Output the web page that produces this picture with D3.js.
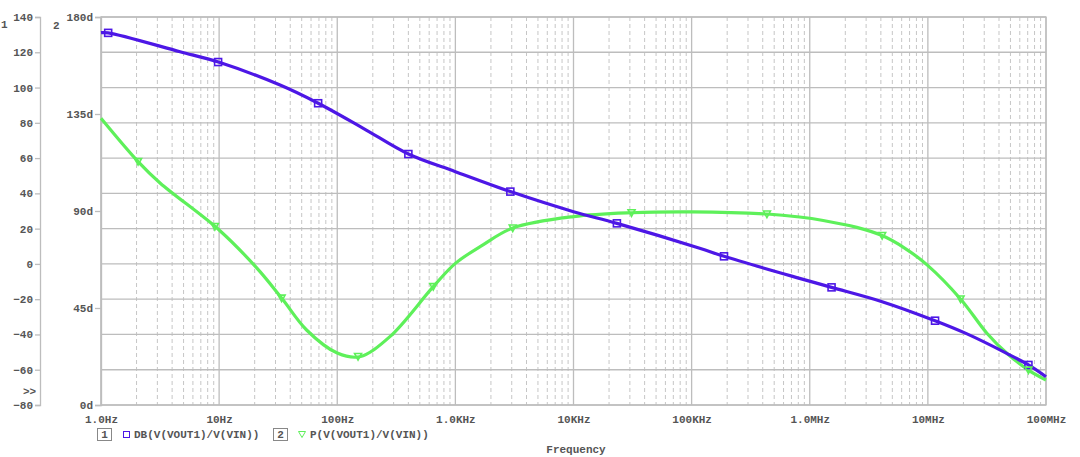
<!DOCTYPE html>
<html>
<head>
<meta charset="utf-8">
<script src="https://cdn.jsdelivr.net/npm/d3@7"></script>
<style>
  body { margin: 0; background: #fff; }
  text { font-family: "Liberation Mono", monospace; font-size: 11px; fill: #555; font-weight: bold; }
</style>
</head>
<body>
<svg id="chart" width="1080" height="457"></svg>
<script>
// DB(V(VOUT1)/V(VIN)) - axis 1
const magFreq = [1, 1.15, 4.67, 10, 32.8, 68.9, 166, 400, 1000, 2920, 10000, 23300, 117000, 188000, 820000, 1.53e6, 4.1e6, 11.5e6, 21e6, 46.5e6, 71e6, 1e8];
const magDb = [131.1, 131.0, 120.3, 114.3, 101.4, 91.1, 76.9, 62.3, 52.3, 41.0, 29.6, 23.0, 8.9, 4.3, -8.2, -13.3, -21.4, -32.2, -39.4, -50.7, -57.3, -64.0];
// P(V(VOUT1)/V(VIN)) - axis 2, degrees
const phFreq = [1, 2.06, 3.16, 10, 20.8, 33.8, 55, 100, 155, 279, 650, 1000, 1700, 3060, 10000, 31000, 100000, 434000, 820000, 1.3e6, 2.5e6, 4.1e6, 6.4e6, 9.9e6, 18.9e6, 31.6e6, 46.6e6, 71e6, 1e8];
const phaseDeg = [133.0, 112.9, 103.0, 81.2, 63.6, 49.6, 34.8, 24.1, 22.4, 31.7, 54.9, 65.7, 74.2, 82.1, 87.4, 89.2, 89.6, 88.6, 87.2, 85.6, 82.4, 78.6, 72.7, 64.9, 49.2, 33.3, 24.0, 16.2, 11.6];

// marker positions (frequency)
const magMarkF = [1.15, 9.8, 68.9, 400, 2920, 23300, 188000, 1.53e6, 11.5e6, 71e6];
const phaseMarkF = [2.06, 9.2, 33.8, 150, 650, 3060, 31000, 434000, 4.1e6, 18.9e6, 71e6];

const xTicks = [1, 10, 100, 1e3, 1e4, 1e5, 1e6, 1e7, 1e8];
const xTickLabels = ["1.0Hz", "10Hz", "100Hz", "1.0KHz", "10KHz", "100KHz", "1.0MHz", "10MHz", "100MHz"];
const y1Ticks = [140, 120, 100, 80, 60, 40, 20, 0, -20, -40, -60, -80];
const y2Ticks = [180, 135, 90, 45, 0];
const y2TickLabels = ["180d", "135d", "90d", "45d", "0d"];

const pLeft = 101, pRight = 1046, pTop = 17, pBottom = 405;
const svg = d3.select("#chart");
const gridCol = "#bdbdbd";

const x = d3.scaleLog().domain([1, 1e8]).range([pLeft, pRight]);
const y1 = d3.scaleLinear().domain([-80, 140]).range([pBottom, pTop]);
const y2 = d3.scaleLinear().domain([0, 180]).range([pBottom, pTop]);

// minor grid (dashed)
const minor = [];
for (let d = 0; d < 8; d++) for (let m = 2; m <= 9; m++) minor.push(m * Math.pow(10, d));
svg.append("g").selectAll("line").data(minor).enter().append("line")
  .attr("x1", d => x(d)).attr("x2", d => x(d))
  .attr("y1", pTop).attr("y2", pBottom)
  .attr("stroke", "#c6c6c6").attr("stroke-dasharray", "4,3");

// major grid
svg.append("g").selectAll("line").data(xTicks).enter().append("line")
  .attr("x1", d => x(d)).attr("x2", d => x(d))
  .attr("y1", pTop).attr("y2", pBottom)
  .attr("stroke", gridCol).attr("stroke-width", 1.3);
svg.append("g").selectAll("line").data(y1Ticks).enter().append("line")
  .attr("x1", pLeft).attr("x2", pRight)
  .attr("y1", d => y1(d)).attr("y2", d => y1(d))
  .attr("stroke", gridCol).attr("stroke-width", 1.3);

// axis 1
const ax1 = svg.append("g").attr("transform", "translate(40,0)")
  .call(d3.axisLeft(y1).tickValues(y1Ticks).tickSize(5).tickPadding(2));
// axis 2
const ax2 = svg.append("g").attr("transform", `translate(${pLeft},0)`)
  .call(d3.axisLeft(y2).tickValues(y2Ticks).tickFormat((d, i) => y2TickLabels[i]).tickSize(6).tickPadding(2));
// x axis
const axx = svg.append("g").attr("transform", `translate(0,${pBottom})`)
  .call(d3.axisBottom(x).tickValues(xTicks).tickFormat((d, i) => xTickLabels[i]).tickSize(0).tickPadding(10));
[ax1, ax2, axx].forEach(a => {
  a.selectAll("path,line").attr("stroke", gridCol).attr("stroke-width", 1.3);
  a.selectAll("text").attr("font-family", null).attr("font-size", null).attr("fill", null);
});
axx.select(".domain").remove();
svg.append("rect").attr("x", pLeft).attr("y", pTop).attr("width", pRight - pLeft).attr("height", pBottom - pTop)
  .attr("fill", "none").attr("stroke", gridCol).attr("stroke-width", 1.3);

svg.append("text").attr("x", 1).attr("y", 28).text("1");
svg.append("text").attr("x", 53).attr("y", 29).text("2");
svg.append("text").attr("x", 23).attr("y", 395).text(">>");

// curves
const magData = d3.zip(magFreq, magDb);
const phData = d3.zip(phFreq, phaseDeg);
const magLine = d3.line().curve(d3.curveCatmullRom.alpha(0.5)).x(d => x(d[0])).y(d => y1(d[1]));
const phLine = d3.line().curve(d3.curveCatmullRom.alpha(0.5)).x(d => x(d[0])).y(d => y2(d[1]));
const purple = "#4d17e6", green = "#5ef05a";

svg.append("path").datum(phData).attr("d", phLine)
  .attr("fill", "none").attr("stroke", green).attr("stroke-width", 3.2);
svg.append("path").datum(magData).attr("d", magLine)
  .attr("fill", "none").attr("stroke", purple).attr("stroke-width", 3.2);

// value at f, linear in log(f) between read points
function interp(data, f) {
  const lf = Math.log10(f);
  for (let i = 1; i < data.length; i++) {
    const a = Math.log10(data[i - 1][0]), b = Math.log10(data[i][0]);
    if (lf <= b) return data[i - 1][1] + (data[i][1] - data[i - 1][1]) * (lf - a) / (b - a);
  }
  return data[data.length - 1][1];
}

svg.append("g").selectAll("rect").data(magMarkF).enter().append("rect")
  .attr("x", d => x(d) - 3.5).attr("y", d => y1(interp(magData, d)) - 3.5)
  .attr("width", 7).attr("height", 7)
  .attr("fill", "none").attr("stroke", purple).attr("stroke-width", 1.6);
svg.append("g").selectAll("path").data(phaseMarkF).enter().append("path")
  .attr("transform", d => `translate(${x(d)},${y2(interp(phData, d))})`)
  .attr("d", "M-3.5,-3L3.5,-3L0,3.5Z")
  .attr("fill", "none").attr("stroke", green).attr("stroke-width", 1.6);

// legend
const lg = svg.append("g");
lg.append("rect").attr("x", 97.5).attr("y", 428.5).attr("width", 14).attr("height", 12)
  .attr("fill", "none").attr("stroke", "#888");
lg.append("text").attr("x", 104.5).attr("y", 438).attr("text-anchor", "middle").text("1");
lg.append("rect").attr("x", 123.5).attr("y", 431.5).attr("width", 6).attr("height", 6)
  .attr("fill", "none").attr("stroke", purple).attr("stroke-width", 1);
lg.append("text").attr("x", 134).attr("y", 438).text("DB(V(VOUT1)/V(VIN))");
lg.append("rect").attr("x", 273.5).attr("y", 428.5).attr("width", 14).attr("height", 12)
  .attr("fill", "none").attr("stroke", "#888");
lg.append("text").attr("x", 280.5).attr("y", 438).attr("text-anchor", "middle").text("2");
lg.append("path").attr("d", "M298.5,431.5L305.5,431.5L302,437.5Z")
  .attr("fill", "none").attr("stroke", green).attr("stroke-width", 1);
lg.append("text").attr("x", 310).attr("y", 438).text("P(V(VOUT1)/V(VIN))");

svg.append("text").attr("x", 576).attr("y", 453).attr("text-anchor", "middle").text("Frequency");
</script>
</body>
</html>
